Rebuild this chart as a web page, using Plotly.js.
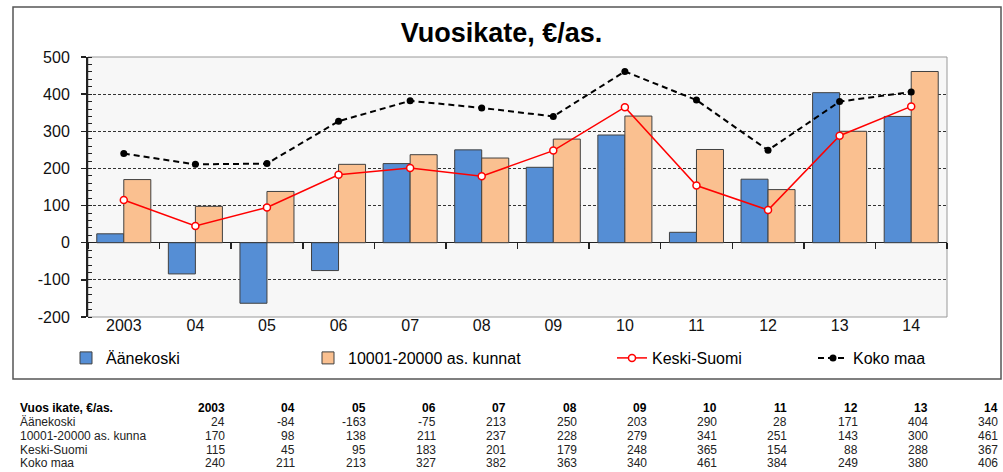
<!DOCTYPE html>
<html>
<head>
<meta charset="utf-8">
<script src="https://cdn.plot.ly/plotly-3.0.1.min.js"></script>
<style>html,body{margin:0;padding:0;background:#fff;}#chart{width:1003px;height:472px;}</style>
</head>
<body>
<div id="chart"></div>
<script>
// ---- data ----
const years = ['2003','04','05','06','07','08','09','10','11','12','13','14'];
const aanekoski = [24,-84,-163,-75,213,250,203,290,28,171,404,340];
const kunnat = [170,98,138,211,237,228,279,341,251,143,300,461];
const keskiSuomi = [115,45,95,183,201,179,248,365,154,88,288,367];
const kokoMaa = [240,211,213,327,382,363,340,461,384,249,380,406];
const seriesNames = ['Äänekoski','10001-20000 as. kunnat','Keski-Suomi','Koko maa'];
const yTickVals = [-200,-100,0,100,200,300,400,500];
const yTickText = ['-200','-100','0','100','200','300','400','500'];
const tableHeader = 'Vuos ikate, €/as.';
const tableRowLabels = ['Äänekoski','10001-20000 as. kunna','Keski-Suomi','Koko maa'];
const chartTitle = 'Vuosikate, €/as.';

// ---- layout helpers (pixel -> paper) ----
const L = 88, R = 947, T = 57, B = 317;
const px = x => (x - L) / (R - L);
const py = y => (B - y) / (B - T);
const FONT = 'Liberation Sans, Arial, sans-serif';

const traces = [
  {type:'bar', name:seriesNames[0], x:years, y:aanekoski, legend:'legend',
   marker:{color:'#558ed5', line:{color:'#404040', width:1}}},
  {type:'bar', name:seriesNames[1], x:years, y:kunnat, legend:'legend2',
   marker:{color:'#fac090', line:{color:'#404040', width:1}}},
  {type:'scatter', mode:'lines+markers', name:seriesNames[2], x:years, y:keskiSuomi,
   legend:'legend3',
   line:{color:'#ff0000', width:1.5},
   marker:{symbol:'circle', size:7, color:'#ffffff', line:{color:'#ff0000', width:1.5}}},
  {type:'scatter', mode:'lines+markers', name:seriesNames[3], x:years, y:kokoMaa,
   legend:'legend4',
   line:{color:'#000000', width:2, dash:'6px,4px'},
   marker:{symbol:'circle', size:7, color:'#000000'}}
];

const annotations = [];
const rowY = [408, 422, 435.5, 449.5, 463];
const colRight = i => 227 + 70.3 * i;
const TFS = 12;
annotations.push({xref:'paper', yref:'paper', x:px(18), y:py(rowY[0]), xanchor:'left', yanchor:'middle',
  showarrow:false, text:'<b>'+tableHeader+'</b>', font:{family:FONT, size:TFS, color:'#000'}});
years.forEach((yr,i)=>{
  annotations.push({xref:'paper', yref:'paper', x:px(colRight(i)), y:py(rowY[0]), xanchor:'right', yanchor:'middle',
    showarrow:false, text:'<b>'+yr+'</b>', font:{family:FONT, size:TFS, color:'#000'}});
});
const tableData = [aanekoski, kunnat, keskiSuomi, kokoMaa];
tableData.forEach((row,r)=>{
  annotations.push({xref:'paper', yref:'paper', x:px(18), y:py(rowY[r+1]), xanchor:'left', yanchor:'middle',
    showarrow:false, text:tableRowLabels[r], font:{family:FONT, size:TFS, color:'#222'}});
  row.forEach((v,i)=>{
    annotations.push({xref:'paper', yref:'paper', x:px(colRight(i)), y:py(rowY[r+1]), xanchor:'right', yanchor:'middle',
      showarrow:false, text:String(v), font:{family:FONT, size:TFS, color:'#222'}});
  });
});

const legendCommon = {orientation:'h', yanchor:'middle', y:py(358), xanchor:'left',
  font:{family:FONT, size:16, color:'#000'}, bgcolor:'rgba(0,0,0,0)'};

const layout = {
  width:1003, height:472,
  margin:{l:L, r:1003-R, t:T, b:472-B, pad:0},
  paper_bgcolor:'#ffffff', plot_bgcolor:'#f7f7f7',
  font:{family:FONT, color:'#000'},
  title:{text:'<b>'+chartTitle+'</b>', x:0.5, xref:'container', xanchor:'center', y:1-33/472, yanchor:'middle',
    font:{family:FONT, size:27, color:'#000'}},
  barmode:'group', bargap:0.245, bargroupgap:0,
  xaxis:{type:'category', range:[-0.5,11.5], anchor:'free', position:py(242),
    showgrid:false, showline:false, zeroline:false,
    ticks:'outside', tickson:'boundaries', ticklen:6, tickwidth:1.5, tickcolor:'#222',
    tickfont:{family:FONT, size:16, color:'#111'}, ticklabelstandoff:72},
  yaxis:{range:[-200,500], tickvals:yTickVals, ticktext:yTickText,
    showgrid:true, gridcolor:'#333', griddash:'3px,2px', gridwidth:1,
    zeroline:true, zerolinecolor:'#222', zerolinewidth:1.5,
    showline:true, linecolor:'#222', linewidth:2,
    ticks:'outside', ticklen:5, tickwidth:1.5, tickcolor:'#222',
    minor:{dtick:20, ticks:'inside', ticklen:4, tickwidth:1, tickcolor:'#222', showgrid:false},
    tickfont:{family:FONT, size:16, color:'#111'}, ticklabelstandoff:8},
  showlegend:true,
  legend:Object.assign({}, legendCommon, {x:px(66)}),
  legend2:Object.assign({}, legendCommon, {x:px(308)}),
  legend3:Object.assign({}, legendCommon, {x:px(612)}),
  legend4:Object.assign({}, legendCommon, {x:px(813)}),
  shapes:[
    {type:'rect', xref:'paper', yref:'paper', x0:px(13), x1:px(1001), y0:py(379), y1:py(7),
      line:{color:'#555', width:1.5}, fillcolor:'rgba(0,0,0,0)', layer:'below'},
    {type:'rect', xref:'paper', yref:'paper', x0:0, x1:1, y0:0, y1:1,
      line:{color:'#999', width:1}, fillcolor:'rgba(0,0,0,0)', layer:'below'}
  ],
  annotations:annotations
};

Plotly.newPlot('chart', traces, layout, {displayModeBar:false, staticPlot:true});
</script>
</body>
</html>
